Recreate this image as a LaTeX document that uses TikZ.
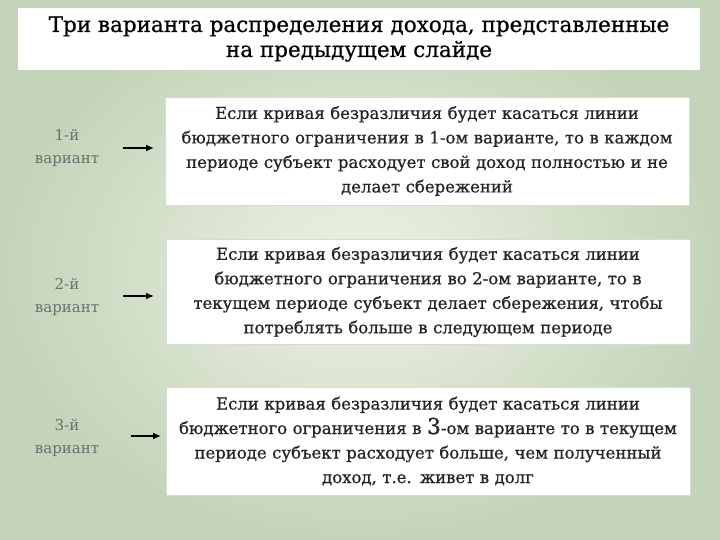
\documentclass[tikz,border=0pt]{standalone}
\usepackage{fontspec}
\usetikzlibrary{arrows.meta}
\setmainfont{DejaVu Serif}
\newfontfamily\semib{DejaVu Serif}[FakeBold=0.7]
\definecolor{bgin}{RGB}{238,242,228}
\definecolor{bgout}{RGB}{196,212,186}
\definecolor{lab}{RGB}{110,110,110}
\definecolor{txt}{RGB}{35,35,35}
\begin{document}
\begin{tikzpicture}[x=1pt,y=-1pt,
  box/.style={fill=white,draw=white!85!black,line width=0.6pt,minimum width=524pt,minimum height=108pt,align=center,text width=520pt,font=\semib\fontsize{16.5}{24.5}\selectfont\color{txt}, inner sep=0pt},
  lbl/.style={align=center,font=\fontsize{15}{23}\selectfont\color{lab}},
  arr/.style={-{Latex[length=8pt,width=7pt]},line width=2pt}]
\useasboundingbox (0,0) rectangle (720,540);
\shade[inner color=bgin,outer color=bgout] (0,0) rectangle (720,540);
\node[fill=white,minimum width=682pt,minimum height=62pt,align=center,inner sep=0pt,font=\semib\fontsize{21.5}{25}\selectfont\color{black}] (title) at (359,39) {Три варианта распределения дохода, представленные\\на предыдущем слайде};
\node[box] (b1) at (427,151) {Если кривая безразличия будет касаться линии\\бюджетного ограничения в 1-ом варианте, то в каждом\\периоде субъект расходует свой доход полностью и не\\делает сбережений};
\node[box,minimum height=105pt] (b2) at (428,292) {Если кривая безразличия будет касаться линии\\бюджетного ограничения во 2-ом варианте, то в\\текущем периоде субъект делает сбережения, чтобы\\потреблять больше в следующем периоде};
\node[box] (b3) at (428,441) {Если кривая безразличия будет касаться линии\\бюджетного ограничения в {\fontsize{22}{24}\selectfont 3}-ом варианте то в текущем\\периоде  субъект расходует больше, чем полученный\\доход, т.е. живет в долг};
\node[lbl] (l1) at (67,148) {1-й\\вариант};
\node[lbl] (l2) at (67,297) {2-й\\вариант};
\node[lbl] (l3) at (67,438) {3-й\\вариант};
\coordinate (a1s) at (123,148); \coordinate (a1e) at (154,148);
\coordinate (a2s) at (123,296); \coordinate (a2e) at (154,296);
\coordinate (a3s) at (131,436); \coordinate (a3e) at (161,436);
\draw[arr] (a1s) -- (a1e);
\draw[arr] (a2s) -- (a2e);
\draw[arr] (a3s) -- (a3e);
\end{tikzpicture}
\end{document}
